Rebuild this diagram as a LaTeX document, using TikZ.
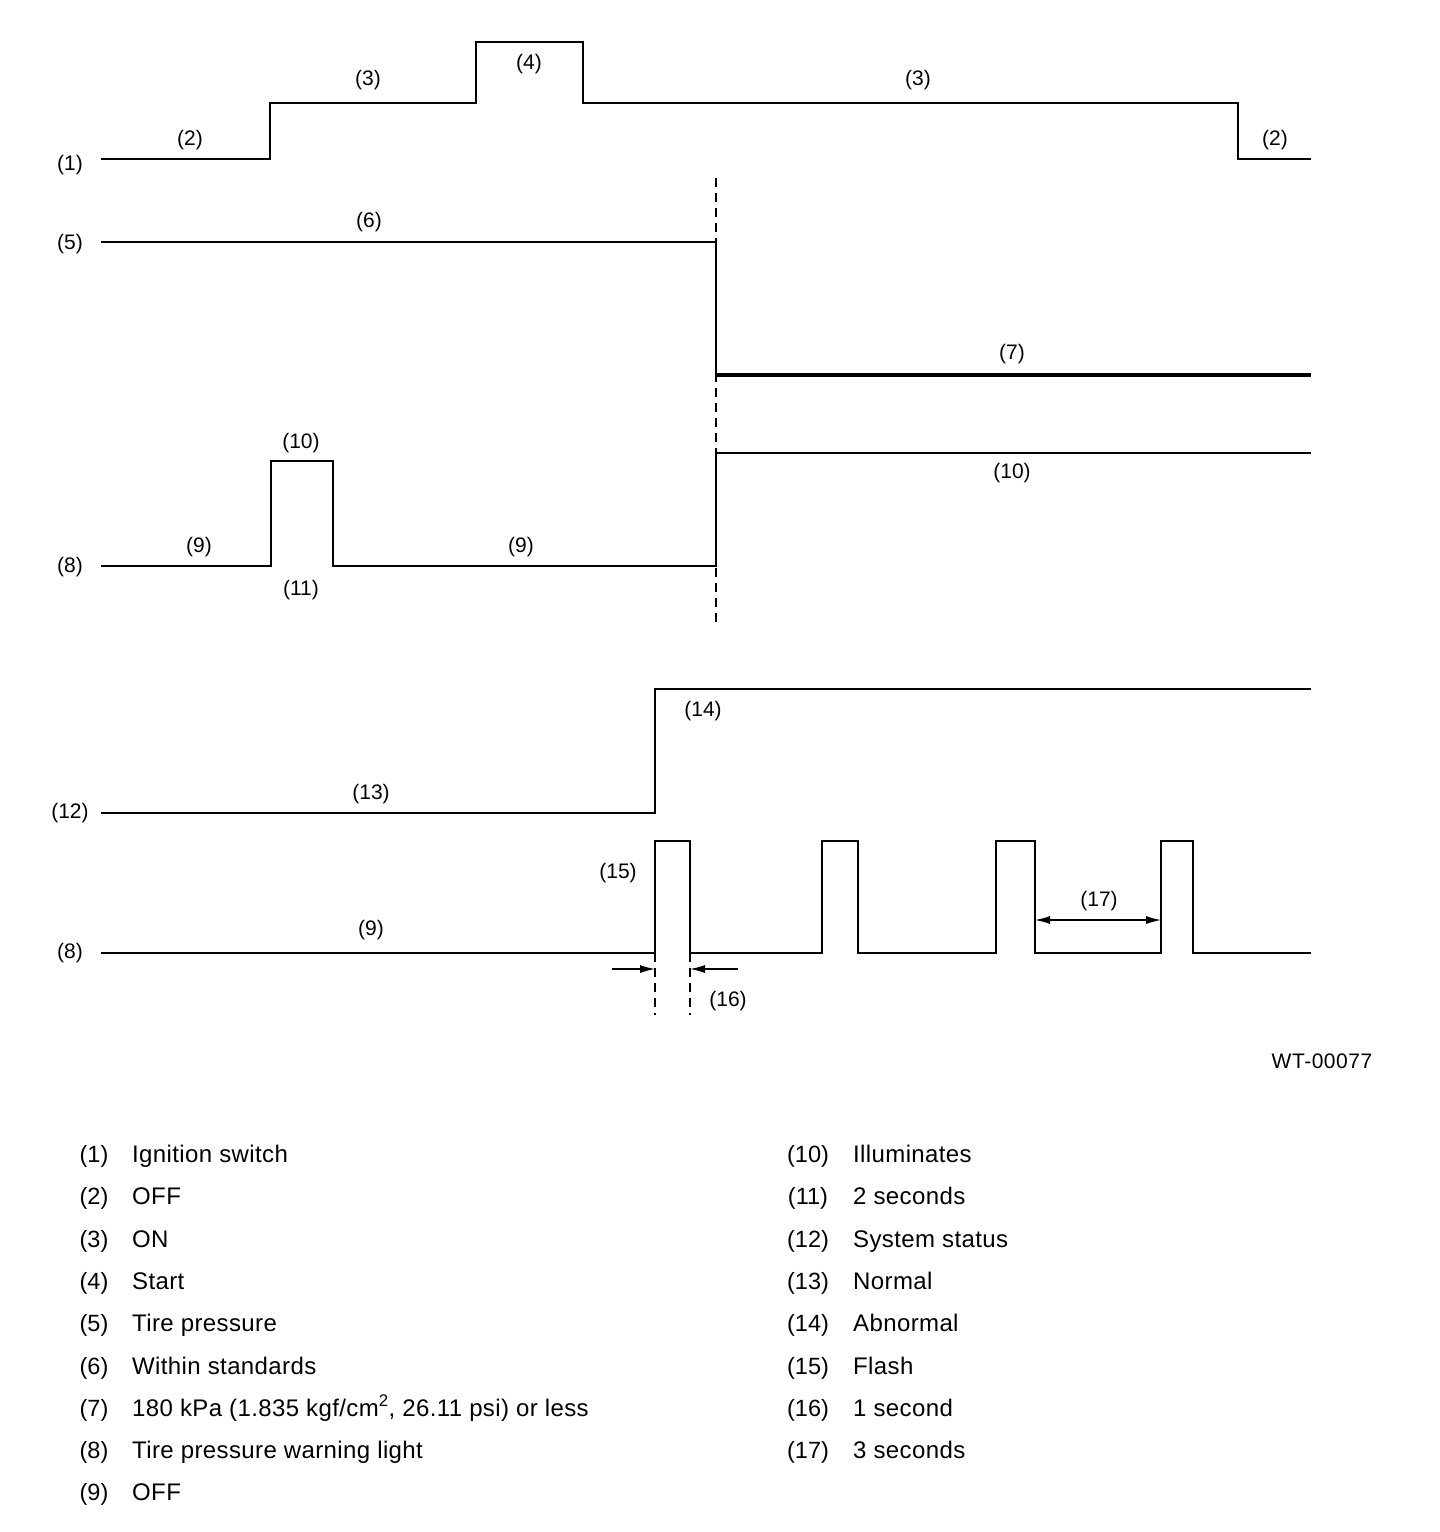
\documentclass[tikz,border=0pt]{standalone}
\usepackage{fontspec}
\setmainfont{Liberation Sans}
\newfontfamily\legfont[LetterSpace=1.6]{Liberation Sans}
\newfontfamily\codefont[LetterSpace=2.5]{Liberation Sans}
\usetikzlibrary{arrows.meta}
\begin{document}
\begin{tikzpicture}[x=1pt,y=-1pt,
  sig/.style={line width=2.4pt, line join=miter},
  sigthick/.style={line width=3.6pt},
  lbl/.style={anchor=base, inner sep=0pt, font=\fontsize{21}{24}\selectfont},
  leg/.style={anchor=base west, inner sep=0pt, font=\legfont\fontsize{24}{28}\selectfont},
  legn/.style={anchor=base, inner sep=0pt, font=\fontsize{23.5}{27}\selectfont},
  dashline/.style={line width=1.6pt, dash pattern=on 9pt off 6pt},
  dimarrow/.style={line width=1.2pt, -{Latex[length=15pt,width=8pt]}},
  dimboth/.style={line width=1.2pt, {Latex[length=15pt,width=8pt]}-{Latex[length=15pt,width=8pt]}}
]
\useasboundingbox (0,0) rectangle (1440,1532);

% Row 1: ignition switch
\draw[sig] (101,159) -- (270,159) -- (270,103) -- (476,103) -- (476,42) -- (583,42) -- (583,103) -- (1238,103) -- (1238,159) -- (1311,159);
\node[lbl] (l1) at (70,170) {(1)};
\node[lbl] (l2a) at (190,145) {(2)};
\node[lbl] (l3a) at (368,85) {(3)};
\node[lbl] (l4) at (529,69) {(4)};
\node[lbl] (l3b) at (918,85) {(3)};
\node[lbl] (l2b) at (1275,145) {(2)};

% dashed vertical
\draw[dashline] (716,178) -- (716,627);

% Row 2: tire pressure
\draw[sig] (101,242) -- (716,242) -- (716,375);
\draw[sigthick] (716,375) -- (1311,375);
\node[lbl] (l5) at (70,249) {(5)};
\node[lbl] (l6) at (369,227) {(6)};
\node[lbl] (l7) at (1012,359) {(7)};

% Row 3: warning light
\draw[sig] (101,566) -- (271,566) -- (271,461) -- (333,461) -- (333,566) -- (716,566) -- (716,453) -- (1311,453);
\node[lbl] (l8a) at (70,572) {(8)};
\node[lbl] (l9a) at (199,552) {(9)};
\node[lbl] (l10a) at (301,448) {(10)};
\node[lbl] (l11) at (301,595) {(11)};
\node[lbl] (l9b) at (521,552) {(9)};
\node[lbl] (l10b) at (1012,478) {(10)};

% Row 4: system status
\draw[sig] (101,813) -- (655,813) -- (655,689) -- (1311,689);
\node[lbl] (l12) at (70,818) {(12)};
\node[lbl] (l13) at (371,799) {(13)};
\node[lbl] (l14) at (703,716) {(14)};

% Row 5: warning light flashing
\draw[sig] (101,953) -- (655,953) -- (655,841) -- (690,841) -- (690,953)
  -- (822,953) -- (822,841) -- (858,841) -- (858,953)
  -- (996,953) -- (996,841) -- (1035,841) -- (1035,953)
  -- (1161,953) -- (1161,841) -- (1193,841) -- (1193,953) -- (1311,953);
\node[lbl] (l8b) at (70,958) {(8)};
\node[lbl] (l9c) at (371,935) {(9)};
\node[lbl] (l15) at (618,878) {(15)};
\node[lbl] (l16) at (728,1006) {(16)};
\node[lbl] (l17) at (1099,906) {(17)};

% dimension for (16)
\draw[dashline] (655,953) -- (655,1015);
\draw[dashline] (690,953) -- (690,1015);
\coordinate (a1) at (612,969);
\coordinate (a2) at (655,969);
\coordinate (b1) at (738,969);
\coordinate (b2) at (690,969);
\draw[dimarrow] (a1) -- (a2);
\draw[dimarrow] (b1) -- (b2);

% dimension for (17)
\coordinate (c1) at (1035,920);
\coordinate (c2) at (1161,920);
\draw[dimboth] (c1) -- (c2);

% figure code
\node[anchor=base, inner sep=0pt, font=\codefont\fontsize{21}{24}\selectfont] (code) at (1322,1068) {WT-00077};

% legend
\node[legn] (n1) at (94,1162) {(1)};   \node[leg] (t1) at (132,1162) {Ignition switch};
\node[legn] (n2) at (94,1204) {(2)};   \node[leg] (t2) at (132,1204) {OFF};
\node[legn] (n3) at (94,1247) {(3)};   \node[leg] (t3) at (132,1247) {ON};
\node[legn] (n4) at (94,1289) {(4)};   \node[leg] (t4) at (132,1289) {Start};
\node[legn] (n5) at (94,1331) {(5)};   \node[leg] (t5) at (132,1331) {Tire pressure};
\node[legn] (n6) at (94,1374) {(6)};   \node[leg] (t6) at (132,1374) {Within standards};
\node[legn] (n7) at (94,1416) {(7)};   \node[leg] (t7) at (132,1416) {180 kPa (1.835 kgf/cm\textsuperscript{2}, 26.11 psi) or less};
\node[legn] (n8) at (94,1458) {(8)};   \node[leg] (t8) at (132,1458) {Tire pressure warning light};
\node[legn] (n9) at (94,1500) {(9)};   \node[leg] (t9) at (132,1500) {OFF};

\node[legn] (n10) at (808,1162) {(10)}; \node[leg] (t10) at (853,1162) {Illuminates};
\node[legn] (n11) at (808,1204) {(11)}; \node[leg] (t11) at (853,1204) {2 seconds};
\node[legn] (n12) at (808,1247) {(12)}; \node[leg] (t12) at (853,1247) {System status};
\node[legn] (n13) at (808,1289) {(13)}; \node[leg] (t13) at (853,1289) {Normal};
\node[legn] (n14) at (808,1331) {(14)}; \node[leg] (t14) at (853,1331) {Abnormal};
\node[legn] (n15) at (808,1374) {(15)}; \node[leg] (t15) at (853,1374) {Flash};
\node[legn] (n16) at (808,1416) {(16)}; \node[leg] (t16) at (853,1416) {1 second};
\node[legn] (n17) at (808,1458) {(17)}; \node[leg] (t17) at (853,1458) {3 seconds};
\end{tikzpicture}
\end{document}
